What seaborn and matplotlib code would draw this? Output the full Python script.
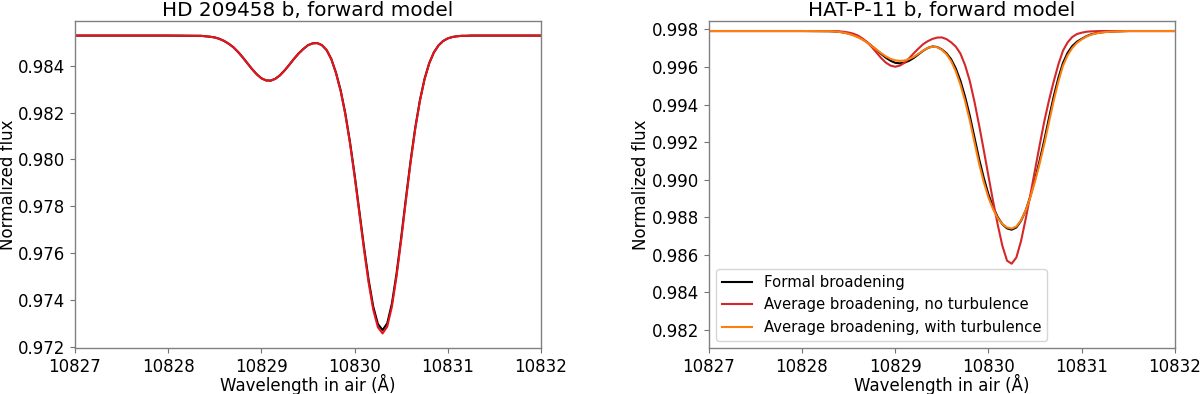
import numpy as np
import pandas as pd
import seaborn as sns
import matplotlib.pyplot as plt
from matplotlib.ticker import MultipleLocator

# wavelength grid (air, Angstrom), shared by both panels
wavelength = [10827.0, 10828.0,
              10828.30, 10828.35, 10828.40, 10828.45, 10828.50, 10828.55, 10828.60, 10828.65,
              10828.70, 10828.75, 10828.80, 10828.85, 10828.90, 10828.95, 10829.00, 10829.05,
              10829.10, 10829.15, 10829.20, 10829.25, 10829.30, 10829.35, 10829.40, 10829.45,
              10829.50, 10829.55, 10829.60, 10829.65, 10829.70, 10829.75, 10829.80, 10829.85,
              10829.90, 10829.95, 10830.00, 10830.05, 10830.10, 10830.15, 10830.20, 10830.25,
              10830.30, 10830.35, 10830.40, 10830.45, 10830.50, 10830.55, 10830.60, 10830.65,
              10830.70, 10830.75, 10830.80, 10830.85, 10830.90, 10830.95, 10831.00, 10831.05,
              10831.10, 10831.15, 10831.20, 10831.25, 10831.30,
              10831.5, 10832.0]

# HD 209458 b
hd_formal = [0.98528, 0.98528,
             0.98527, 0.98527, 0.98525, 0.98523, 0.98520, 0.98514, 0.98505, 0.98493,
             0.98478, 0.98458, 0.98435, 0.98410, 0.98385, 0.98363, 0.98346, 0.98337,
             0.98336, 0.98344, 0.98359, 0.98380, 0.98404, 0.98429, 0.98452, 0.98471,
             0.98487, 0.98495, 0.98496, 0.98487, 0.98466, 0.98428, 0.98370, 0.98295,
             0.98197, 0.98075, 0.97935, 0.97782, 0.97629, 0.97488, 0.97373, 0.97299,
             0.97273, 0.97302, 0.97386, 0.97514, 0.97668, 0.97833, 0.97992, 0.98134,
             0.98251, 0.98343, 0.98410, 0.98456, 0.98486, 0.98505, 0.98516, 0.98522,
             0.98525, 0.98527, 0.98527, 0.98528, 0.98528,
             0.98528, 0.98528]
hd_average = [0.98528, 0.98528,
              0.98527, 0.98527, 0.98525, 0.98523, 0.98520, 0.98514, 0.98505, 0.98493,
              0.98478, 0.98458, 0.98435, 0.98410, 0.98385, 0.98363, 0.98346, 0.98337,
              0.98336, 0.98344, 0.98359, 0.98380, 0.98404, 0.98429, 0.98452, 0.98471,
              0.98487, 0.98495, 0.98496, 0.98487, 0.98466, 0.98428, 0.98368, 0.98292,
              0.98193, 0.98070, 0.97928, 0.97774, 0.97619, 0.97476, 0.97360, 0.97285,
              0.97259, 0.97288, 0.97373, 0.97503, 0.97658, 0.97825, 0.97986, 0.98129,
              0.98248, 0.98341, 0.98409, 0.98456, 0.98486, 0.98505, 0.98516, 0.98522,
              0.98525, 0.98527, 0.98527, 0.98528, 0.98528,
              0.98528, 0.98528]

# HAT-P-11 b
hat_formal = [0.99791, 0.99791,
              0.99790, 0.99789, 0.99787, 0.99783, 0.99778, 0.99770, 0.99760, 0.99747,
              0.99731, 0.99711, 0.99690, 0.99669, 0.99649, 0.99633, 0.99622, 0.99619,
              0.99623, 0.99633, 0.99648, 0.99667, 0.99686, 0.99701, 0.99709, 0.99706,
              0.99693, 0.99673, 0.99641, 0.99592, 0.99526, 0.99441, 0.99341, 0.99226,
              0.99111, 0.99010, 0.98923, 0.98854, 0.98801, 0.98763, 0.98741, 0.98734,
              0.98746, 0.98781, 0.98836, 0.98911, 0.99001, 0.99102, 0.99211, 0.99328,
              0.99441, 0.99540, 0.99621, 0.99675, 0.99711, 0.99734, 0.99749, 0.99763,
              0.99773, 0.99779, 0.99783, 0.99786, 0.99788,
              0.99791, 0.99791]
hat_no_turb = [0.99791, 0.99791,
               0.99791, 0.99790, 0.99789, 0.99787, 0.99783, 0.99777, 0.99767, 0.99751,
               0.99731, 0.99705, 0.99676, 0.99647, 0.99623, 0.99607, 0.99601, 0.99607,
               0.99622, 0.99646, 0.99673, 0.99698, 0.99721, 0.99737, 0.99749, 0.99756,
               0.99757, 0.99748, 0.99731, 0.99708, 0.99671, 0.99609, 0.99526, 0.99416,
               0.99291, 0.99158, 0.99021, 0.98886, 0.98761, 0.98648, 0.98569, 0.98553,
               0.98586, 0.98673, 0.98791, 0.98918, 0.99051, 0.99184, 0.99311, 0.99422,
               0.99521, 0.99612, 0.99686, 0.99731, 0.99759, 0.99775, 0.99782, 0.99787,
               0.99789, 0.99790, 0.99791, 0.99791, 0.99791,
               0.99791, 0.99791]
hat_turb = [0.99791, 0.99791,
            0.99790, 0.99789, 0.99786, 0.99782, 0.99776, 0.99768, 0.99758, 0.99745,
            0.99729, 0.99711, 0.99692, 0.99673, 0.99656, 0.99643, 0.99635, 0.99632,
            0.99634, 0.99642, 0.99654, 0.99670, 0.99687, 0.99701, 0.99708, 0.99705,
            0.99691, 0.99668, 0.99631, 0.99577, 0.99506, 0.99418, 0.99316, 0.99200,
            0.99086, 0.98988, 0.98906, 0.98843, 0.98796, 0.98764, 0.98746, 0.98740,
            0.98751, 0.98784, 0.98836, 0.98906, 0.98991, 0.99086, 0.99191, 0.99306,
            0.99419, 0.99521, 0.99606, 0.99662, 0.99701, 0.99728, 0.99746, 0.99761,
            0.99771, 0.99778, 0.99782, 0.99785, 0.99787,
            0.99791, 0.99791]

lab_formal = 'Formal broadening'
lab_noturb = 'Average broadening, no turbulence'
lab_turb = 'Average broadening, with turbulence'

df_hd = pd.concat([
    pd.DataFrame({'wl': wavelength, 'flux': hd_formal, 'model': lab_formal}),
    pd.DataFrame({'wl': wavelength, 'flux': hd_average, 'model': lab_noturb}),
])
df_hat = pd.concat([
    pd.DataFrame({'wl': wavelength, 'flux': hat_formal, 'model': lab_formal}),
    pd.DataFrame({'wl': wavelength, 'flux': hat_no_turb, 'model': lab_noturb}),
    pd.DataFrame({'wl': wavelength, 'flux': hat_turb, 'model': lab_turb}),
])

pal_hd = {lab_formal: 'black', lab_noturb: '#e8141c'}
pal_hat = {lab_formal: 'black', lab_noturb: '#d62728', lab_turb: '#ff7f0e'}

fig, axes = plt.subplots(1, 2, figsize=(12, 3.94), dpi=100)
fig.subplots_adjust(left=0.0625, right=0.979, bottom=0.116, top=0.9475, wspace=0.36)

sns.lineplot(data=df_hd, x='wl', y='flux', hue='model', palette=pal_hd, sort=False,
             estimator=None, linewidth=1.5, ax=axes[0], legend=False)
sns.lineplot(data=df_hat, x='wl', y='flux', hue='model', palette=pal_hat, sort=False,
             estimator=None, linewidth=1.5, ax=axes[1])

axes[0].set_title('HD 209458 b, forward model', fontsize=14.4, pad=3.4)
axes[1].set_title('HAT-P-11 b, forward model', fontsize=14.4, pad=3.4)
axes[1].set_ylim(0.98103, 0.99846)

for ax in axes:
    ax.set_xlim(10827, 10832)
    ax.xaxis.set_major_locator(MultipleLocator(1))
    ax.yaxis.set_major_locator(MultipleLocator(0.002))
    ax.ticklabel_format(useOffset=False)
    ax.set_xlabel('Wavelength in air (Å)', fontsize=12, labelpad=-1.5)
    ax.set_ylabel('Normalized flux', fontsize=12, labelpad=1)
    ax.tick_params(labelsize=12, color='0.45')
    for s in ax.spines.values():
        s.set_color('0.5')
        s.set_linewidth(1.0)

axes[1].legend(loc='lower left', fontsize=10.7, title=None)

fig.savefig('out.png', dpi=100)
